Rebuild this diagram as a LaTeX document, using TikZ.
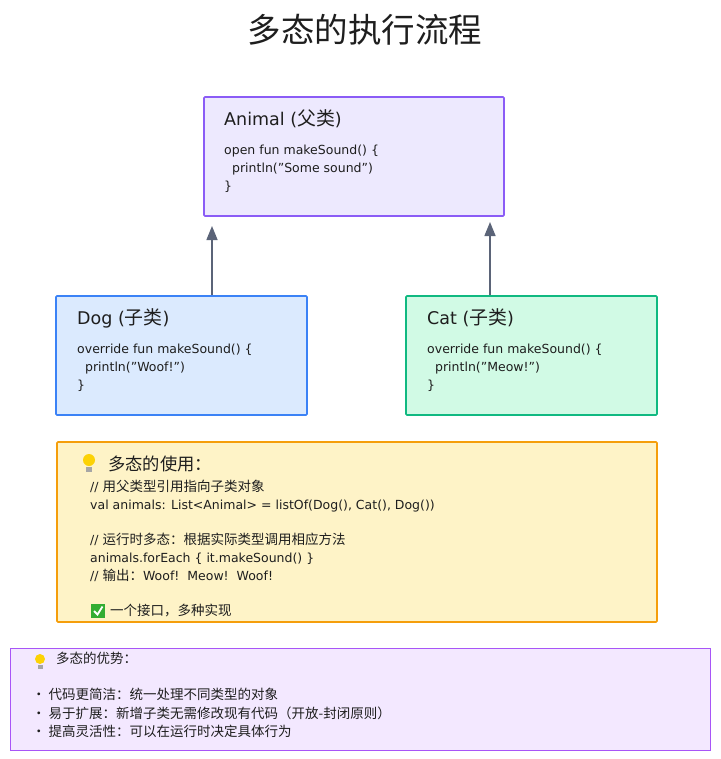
\documentclass[tikz,border=0pt]{standalone}
\usepackage{fontspec}
\setmainfont{DejaVu Sans}
\newfontfamily\cjk[Scale=1.08]{Noto Sans CJK SC}
\newcommand{\zh}[1]{{\cjk #1}}
\usetikzlibrary{arrows.meta,calc}
\definecolor{pbd}{HTML}{8B5CF6}\definecolor{pfl}{HTML}{EDE9FE}
\definecolor{bbd}{HTML}{3B82F6}\definecolor{bfl}{HTML}{DBEAFE}
\definecolor{gbd}{HTML}{10B981}\definecolor{gfl}{HTML}{D1FAE5}
\definecolor{ybd}{HTML}{F59E0B}\definecolor{yfl}{HTML}{FEF3C7}
\definecolor{lbd}{HTML}{A855F7}\definecolor{lfl}{HTML}{F3E8FF}
\definecolor{arr}{HTML}{5B6478}\definecolor{txt}{HTML}{1E1E1E}
\tikzset{x=1pt,y=-1pt,
 box/.style={line width=1.6pt,rounded corners=1pt},
 hd/.style={anchor=west,font=\fontsize{17.5}{20}\selectfont,text=txt,inner sep=0},
 code/.style={anchor=north west,font=\fontsize{12.5}{18}\selectfont,text=txt,align=left,inner sep=0},
 con/.style={draw=arr,line width=1.5pt,-{Triangle[length=14pt,width=11pt]}}}
\begin{document}
\begin{tikzpicture}
\useasboundingbox (0,0) rectangle (720,759);
\node[font=\fontsize{31}{36}\selectfont\cjk,text=txt] (title) at (365,30) {多态的执行流程};
\draw[box,draw=pbd,fill=pfl] (204,97) rectangle (504,216);
\node[hd] (ah) at (224,119) {Animal (\zh{父类})};
\node[code] (ac) at (224,145) {open fun makeSound() \{\\\ \ println("Some sound")\\\}};
\draw[box,draw=bbd,fill=bfl] (56,296) rectangle (307,415);
\node[hd] (dh) at (77,318) {Dog (\zh{子类})};
\node[code] (dc) at (77,344) {override fun makeSound() \{\\\ \ println("Woof!")\\\}};
\draw[box,draw=gbd,fill=gfl] (406,296) rectangle (657,415);
\node[hd] (ch) at (427,318) {Cat (\zh{子类})};
\node[code] (cc) at (427,344) {override fun makeSound() \{\\\ \ println("Meow!")\\\}};
\coordinate (d1) at (212,295); \coordinate (d2) at (212,226);
\coordinate (c1) at (490,295); \coordinate (c2) at (490,222);
\draw[con] (d1) -- (d2);
\draw[con] (c1) -- (c2);
\draw[box,draw=ybd,fill=yfl] (57,442) rectangle (657,622);
\fill[yellow!70!orange] (89,460) circle (6pt);
\fill[gray!70] (86,467) rectangle (92,472);
\node[hd,font=\fontsize{16}{20}\selectfont\cjk] (yh) at (108,464) {多态的使用：};
\node[code,font=\fontsize{12.5}{17.7}\selectfont] (yc) at (90,480) {// \zh{用父类型引用指向子类对象}\\val animals: List<Animal> = listOf(Dog(), Cat(), Dog())\\[17.7pt]// \zh{运行时多态：根据实际类型调用相应方法}\\animals.forEach \{ it.makeSound() \}\\// \zh{输出：}Woof!\ \ Meow!\ \ Woof!\\[17.7pt]\hspace{20pt}\zh{一个接口，多种实现}};
\fill[green!60!black!80] (91,604) rectangle (105,618);
\draw[white,line width=1.8pt] (94,611) -- (97.5,614.5) -- (102.5,606.5);
\draw[draw=lbd,fill=lfl,line width=1pt] (10,648) rectangle (710,750);
\fill[yellow!70!orange] (40,659) circle (5pt);
\fill[gray!70] (37.5,665) rectangle (42.5,669);
\node[code,font=\fontsize{12.5}{18}\selectfont\cjk] (lc) at (56,652) {多态的优势：};
\node[code,font=\fontsize{12.5}{18.5}\selectfont\cjk] (lc2) at (32,688) {• 代码更简洁：统一处理不同类型的对象\\• 易于扩展：新增子类无需修改现有代码（开放-封闭原则）\\• 提高灵活性：可以在运行时决定具体行为};
\end{tikzpicture}
\end{document}
